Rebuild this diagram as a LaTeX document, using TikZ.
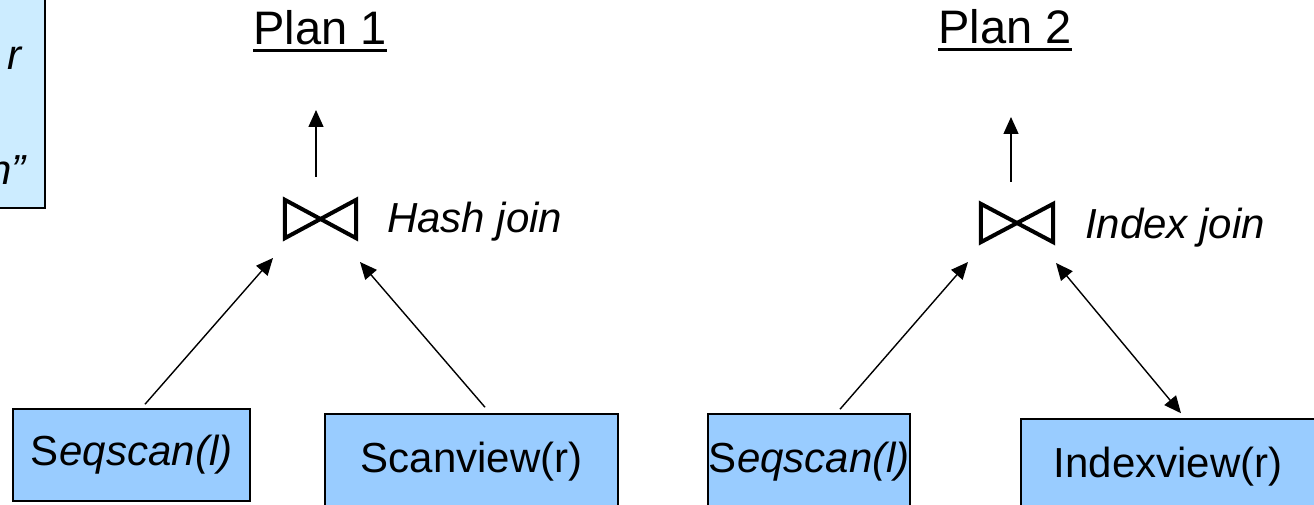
\documentclass[tikz,border=0pt]{standalone}
\usepackage{fontspec}
\setmainfont{Liberation Sans}
\usetikzlibrary{arrows.meta}
\definecolor{opblue}{RGB}{153,204,255}
\definecolor{noteblue}{RGB}{204,236,255}
\begin{document}
\begin{tikzpicture}[x=1pt,y=-1pt,
  opbox/.style={draw=black,line width=1.5pt,fill=opblue,inner sep=0pt,font=\fontsize{42}{50}\selectfont},
  notebox/.style={draw=black,line width=1.5pt,fill=noteblue,inner sep=0pt},
  lbl/.style={inner sep=0pt,anchor=base west,font=\fontsize{42}{50}\selectfont\itshape},
  notetxt/.style={inner sep=0pt,anchor=base east,font=\fontsize{42}{50}\selectfont\itshape},
  ttl/.style={inner sep=0pt,anchor=base,font=\fontsize{47}{56}\selectfont},
  ttlline/.style={line width=3pt},
  joinsym/.style={minimum width=71pt,minimum height=38pt,inner sep=0pt},
  bowline/.style={line width=4pt,line join=miter},
  tip/.style={Triangle[length=17pt,width=15pt]},
  conn/.style={line width=1.4pt,-{Triangle[length=17pt,width=15pt]}},
  dconn/.style={line width=1.4pt,{Triangle[length=17pt,width=15pt]}-{Triangle[length=17pt,width=15pt]}}
]
\useasboundingbox (0,0) rectangle (1314,505);
\clip (0,0) rectangle (1314,505);

% partially visible note box
\node[notebox,minimum width=65pt,minimum height=228pt] (note) at (12.5,94) {};
\node[notetxt] (noter) at (22,70) {r};
\node[notetxt] (noten) at (26,185) {n”};

% Plan 1
\node[ttl] (t1) at (320,45) {Plan 1};
\draw[ttlline] ([yshift=-6pt]t1.base west) -- ([yshift=-6pt]t1.base east);
\node[joinsym] (j1) at (320.5,219) {};
\draw[bowline] (j1.north west) -- (j1.south east) -- (j1.north east) -- (j1.south west) -- cycle;
\node[lbl] (h1) at (387,233) {Hash join};
\node[opbox,minimum width=237pt,minimum height=92pt] (s1) at (131.5,455) {S\kern1pt\textit{eqscan(l)}};
\node[opbox,minimum width=293pt,minimum height=96pt] (v1) at (471.5,462) {Scanview(r)};
\draw[conn] ([xshift=-4.5pt,yshift=42pt]j1.center) -- ++(0,-67);
\draw[conn] ([xshift=13.5pt,yshift=4pt]s1.north) -- ([xshift=-47.5pt,yshift=-39pt]j1.center);
\draw[conn] ([xshift=13.5pt,yshift=6pt]v1.north) -- ([xshift=39.5pt,yshift=-43pt]j1.center);

% Plan 2
\node[ttl] (t2) at (1005,44) {Plan 2};
\draw[ttlline] ([yshift=-6pt]t2.base west) -- ([yshift=-6pt]t2.base east);
\node[joinsym,minimum width=72pt] (j2) at (1017,223) {};
\draw[bowline] (j2.north west) -- (j2.south east) -- (j2.north east) -- (j2.south west) -- cycle;
\node[lbl] (h2) at (1085,238) {Index join};
\node[opbox,minimum width=200pt,minimum height=96pt] (s2) at (809,462) {S\kern1pt\textit{eqscan(l)}};
\node[opbox,minimum width=294pt,minimum height=96pt] (i2) at (1168,467) {Indexview(r)};
\draw[conn] ([xshift=-6pt,yshift=41pt]j2.center) -- ++(0,-65);
\draw[conn] ([xshift=31pt,yshift=4pt]s2.north) -- ([xshift=-49pt,yshift=-39pt]j2.center);
\draw[dconn] ([xshift=39pt,yshift=-40pt]j2.center) -- ([xshift=13pt,yshift=5pt]i2.north);
\end{tikzpicture}
\end{document}
